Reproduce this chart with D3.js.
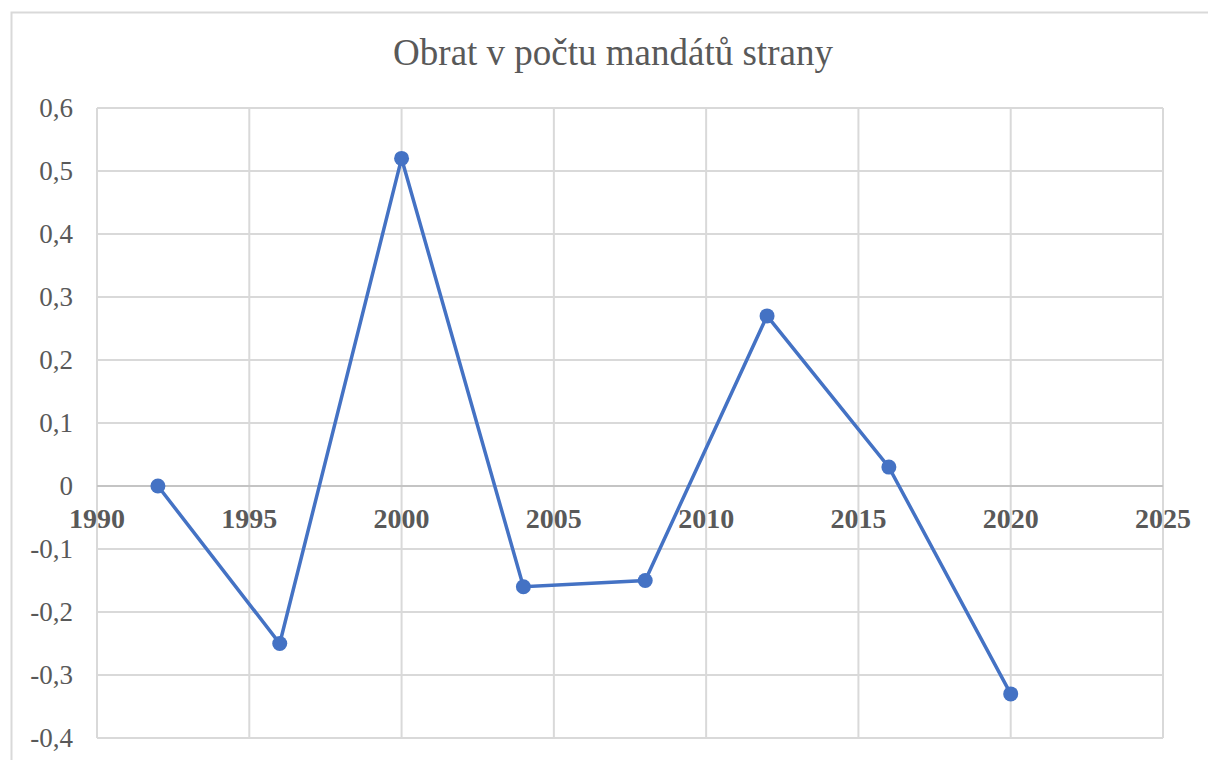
<!DOCTYPE html>
<meta charset="utf-8">
<style>
  body { margin: 0; background: #fff; }
  text { font-family: "Liberation Serif", "Times New Roman", serif; fill: #595959; }
</style>
<body>
<script src="https://cdn.jsdelivr.net/npm/d3@7"></script>
<script>
  var years = [1992, 1996, 2000, 2004, 2008, 2012, 2016, 2020];
  var turnover = [0, -0.25, 0.52, -0.16, -0.15, 0.27, 0.03, -0.33];
  var xTicks = [1990, 1995, 2000, 2005, 2010, 2015, 2020, 2025];
  var yTicks = [0.6, 0.5, 0.4, 0.3, 0.2, 0.1, 0, -0.1, -0.2, -0.3, -0.4];
  var title = "Obrat v počtu mandátů strany";

  var width = 1208, height = 760;
  var plot = {left: 97, right: 1163, top: 108, bottom: 738};

  var svg = d3.select("body").append("svg")
    .attr("width", width)
    .attr("height", height);

  // outer chart frame (runs off the right/bottom edge)
  svg.append("rect")
    .attr("x", 11.5).attr("y", 12.5)
    .attr("width", width).attr("height", height)
    .style("fill", "none")
    .style("stroke", "#d9d9d9")
    .style("stroke-width", 2);

  var x = d3.scaleLinear().domain([1990, 2025]).range([plot.left, plot.right]);
  var y = d3.scaleLinear().domain([-0.4, 0.6]).range([plot.bottom, plot.top]);

  // czech style decimals: 0,1 / -0,1
  var fmt = function(v) {
    if (Math.abs(v) < 1e-9) return "0";
    return (v < 0 ? "-" : "") + Math.abs(v).toFixed(1).replace(".", ",");
  };

  // gridlines
  svg.append("g").selectAll("line").data(yTicks).enter().append("line")
    .attr("x1", plot.left).attr("x2", plot.right)
    .attr("y1", function(d) { return y(d); }).attr("y2", function(d) { return y(d); })
    .style("stroke", "#d9d9d9").style("stroke-width", 2);

  svg.append("g").selectAll("line").data(xTicks).enter().append("line")
    .attr("x1", function(d) { return x(d); }).attr("x2", function(d) { return x(d); })
    .attr("y1", plot.top).attr("y2", plot.bottom)
    .style("stroke", "#d9d9d9").style("stroke-width", 2);

  // horizontal axis at zero
  svg.append("line")
    .attr("x1", plot.left).attr("x2", plot.right)
    .attr("y1", y(0)).attr("y2", y(0))
    .style("stroke", "#c4c4c4").style("stroke-width", 2);

  // y tick labels
  svg.append("g").selectAll("text").data(yTicks).enter().append("text")
    .attr("x", 73)
    .attr("y", function(d) { return y(d); })
    .attr("dy", "0.34em")
    .attr("text-anchor", "end")
    .style("font-size", "27px")
    .text(fmt);

  // x tick labels, sitting under the zero line
  svg.append("g").selectAll("text").data(xTicks).enter().append("text")
    .attr("x", function(d) { return x(d); })
    .attr("y", y(0) + 42)
    .attr("text-anchor", "middle")
    .style("font-size", "28px")
    .style("font-weight", "bold")
    .text(function(d) { return d; });

  // title
  svg.append("text")
    .attr("x", 613).attr("y", 65)
    .attr("text-anchor", "middle")
    .style("font-size", "37px")
    .text(title);

  var data = years.map(function(yr, i) { return {year: yr, v: turnover[i]}; });

  svg.append("path")
    .datum(data)
    .attr("d", d3.line().x(function(d) { return x(d.year); }).y(function(d) { return y(d.v); }))
    .style("fill", "none")
    .style("stroke", "#4472c4")
    .style("stroke-width", 3.5);

  svg.append("g").selectAll("circle").data(data).enter().append("circle")
    .attr("cx", function(d) { return x(d.year); })
    .attr("cy", function(d) { return y(d.v); })
    .attr("r", 7.5)
    .style("fill", "#4472c4");
</script>
